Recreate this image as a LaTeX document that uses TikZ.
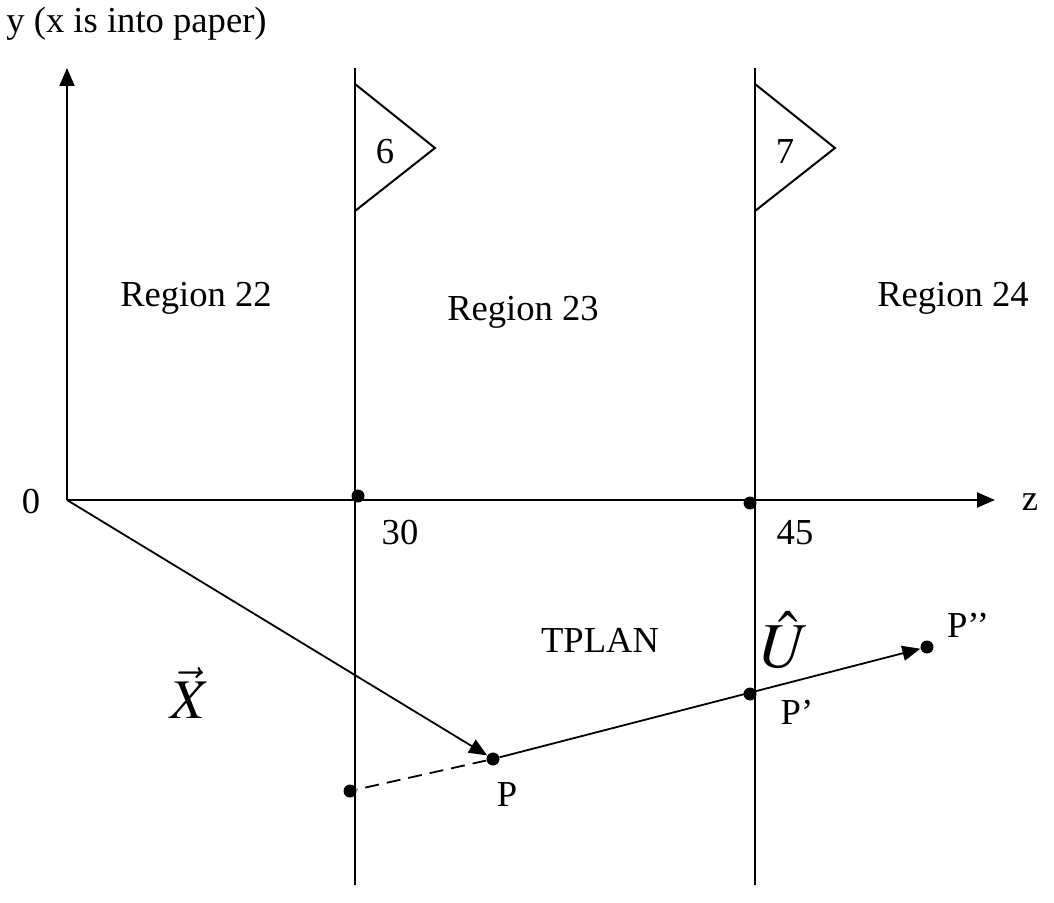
\documentclass[tikz,border=0pt]{standalone}
\usepackage{mathptmx}
\usepackage{fontspec}
\setmainfont{Liberation Serif}
\usetikzlibrary{arrows.meta, positioning}

\begin{document}
\begin{tikzpicture}[
    x=0.5pt, y=-0.5pt,
    axis/.style={line width=1pt, -{Triangle[length=9pt, width=7.5pt]}},
    wall/.style={line width=1pt},
    flag/.style={line width=1pt},
    dot/.style={circle, fill=black, inner sep=0pt, minimum size=6.5pt},
    lbl/.style={font=\fontsize{18.3}{22}\selectfont, inner sep=0pt},
    vlbl/.style={font=\fontsize{28}{32}\selectfont, inner sep=0pt}
]
\useasboundingbox (0,0) rectangle (1054,903);

% axes
\coordinate (origin) at (67,500);
\coordinate (ytop) at (67,68);
\coordinate (zend) at (995,500);
\draw[axis] (origin) -- (ytop);
\draw[axis] (origin) -- (zend);
\node[lbl, anchor=west] (ylabel) at (6,24) {y (x is into paper)};
\node[lbl] (zlabel) at (1030,502) {z};
\node[lbl] (zero) at (31,502) {0};

% region boundaries
\coordinate (w1top) at (355,68);
\coordinate (w1bot) at (355,885);
\coordinate (w2top) at (755,68);
\coordinate (w2bot) at (755,885);
\draw[wall] (w1top) -- (w1bot);
\draw[wall] (w2top) -- (w2bot);

% flags
\draw[flag] (355,84) -- (435,148) -- (355,211);
\draw[flag] (755,84) -- (835,148) -- (755,211);
\node[lbl] (six) at (385,152) {6};
\node[lbl] (seven) at (785,152) {7};

\node[lbl] (r22) at (196,298) {Region 22};
\node[lbl] (r23) at (523,312) {Region 23};
\node[lbl] (r24) at (953,298) {Region 24};

% axis points
\node[dot] (z30) at (358,496) {};
\node[dot] (z45) at (750,503) {};
\node[lbl] (l30) at (400,533) {30};
\node[lbl] (l45) at (795,533) {45};

% track
\node[dot] (P) at (493,759) {};
\node[dot] (P1) at (750,694) {};
\node[dot] (P2) at (927,647) {};
\node[dot] (Q) at (350,791) {};
\draw[axis, line width=0.9pt] (origin) -- (P);
\draw[line width=0.9pt, dash pattern=on 7pt off 4pt] (P) -- (Q);
\draw[axis, line width=0.9pt] (P) -- (P2);

\node[lbl] (lP) at (507,795) {P};
\node[lbl] (lP1) at (797,712) {P’};
\node[lbl] (lP2) at (968,625) {P’’};
\node[lbl] (tplan) at (600,640) {TPLAN};
\node[vlbl] (Xvec) at (190,693) {$\vec{X}$};
\node[vlbl, font=\fontsize{32}{36}\selectfont] (Uhat) at (785,640) {$\hat{U}$};

\end{tikzpicture}
\end{document}
